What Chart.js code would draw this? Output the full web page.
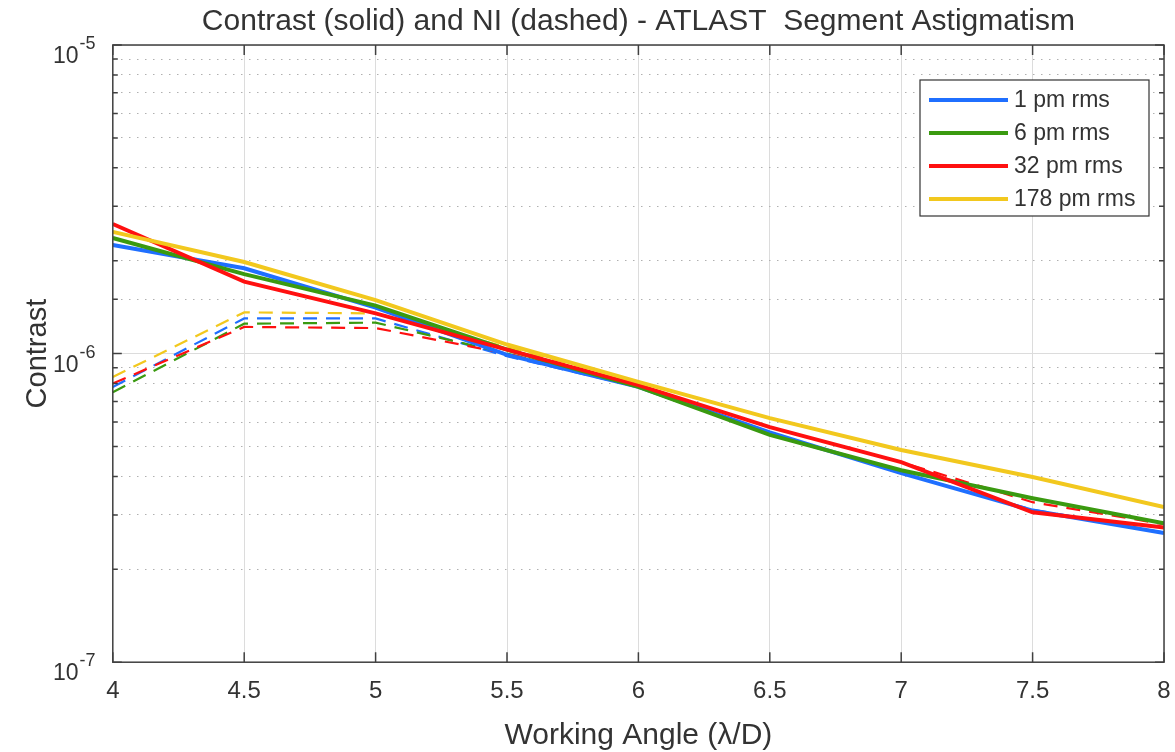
<!DOCTYPE html>
<html>
<head>
<meta charset="utf-8">
<script src="https://cdn.jsdelivr.net/npm/chart.js@4.4.1/dist/chart.umd.min.js"></script>
<style>
  body { margin: 0; background: #fff; }
  #wrap { width: 1175px; height: 752px; }
</style>
</head>
<body>
<div id="wrap"><canvas id="astigChart" width="1175" height="752"></canvas></div>
<script>
// Working angle samples (lambda/D)
const angles = [4, 4.5, 5, 5.5, 6, 6.5, 7, 7.5, 8];
const seriesNames = ["1 pm rms", "6 pm rms", "32 pm rms", "178 pm rms"];
const seriesColors = ["#1f6fff", "#3a9a10", "#ff1010", "#f2c81e"];

// Contrast (solid lines)
const contrast1pm = [2.25e-6, 1.89e-6, 1.41e-6, 0.99e-6, 7.8e-7, 5.55e-7, 4.1e-7, 3.1e-7, 2.62e-7];
const contrast6pm = [2.37e-6, 1.81e-6, 1.43e-6, 1.03e-6, 7.8e-7, 5.45e-7, 4.19e-7, 3.4e-7, 2.82e-7];
const contrast32pm = [2.63e-6, 1.71e-6, 1.35e-6, 1.03e-6, 7.9e-7, 5.78e-7, 4.45e-7, 3.06e-7, 2.73e-7];
const contrast178pm = [2.48e-6, 1.98e-6, 1.49e-6, 1.07e-6, 8.1e-7, 6.18e-7, 4.87e-7, 3.98e-7, 3.18e-7];

// NI (dashed lines)
const ni1pm = [7.8e-7, 1.3e-6, 1.3e-6, 0.98e-6, 7.8e-7, 5.55e-7, 4.1e-7, 3.12e-7, 2.63e-7];
const ni6pm = [7.5e-7, 1.25e-6, 1.26e-6, 1.0e-6, 7.8e-7, 5.45e-7, 4.19e-7, 3.4e-7, 2.82e-7];
const ni32pm = [8.0e-7, 1.22e-6, 1.21e-6, 1.0e-6, 7.9e-7, 5.78e-7, 4.45e-7, 3.3e-7, 2.8e-7];
const ni178pm = [8.4e-7, 1.36e-6, 1.35e-6, 1.05e-6, 8.1e-7, 6.18e-7, 4.87e-7, 3.98e-7, 3.18e-7];

// y tick labels (decades only)
const yDecades = [1e-7, 1e-6, 1e-5];
const yDecadeExp = ["-7", "-6", "-5"];

const FONT = "'Liberation Sans', Arial, Helvetica, sans-serif";
const TEXT = "#333333";

const solidSets = [contrast1pm, contrast6pm, contrast32pm, contrast178pm];
const dashedSets = [ni1pm, ni6pm, ni32pm, ni178pm];

function isDecade(v) {
  const l = Math.log10(v);
  return Math.abs(l - Math.round(l)) < 1e-6;
}

const datasets = [];
solidSets.forEach((vals, i) => {
  datasets.push({
    label: seriesNames[i],
    data: angles.map((a, k) => ({ x: a, y: vals[k] })),
    borderColor: seriesColors[i],
    borderWidth: 4,
    pointRadius: 0,
    tension: 0,
    order: 4 - i,
  });
});
dashedSets.forEach((vals, i) => {
  datasets.push({
    label: seriesNames[i] + " NI",
    data: angles.map((a, k) => ({ x: a, y: vals[k] })),
    borderColor: seriesColors[i],
    borderWidth: 2.2,
    borderDash: [14, 9],
    pointRadius: 0,
    tension: 0,
    order: 8 - i,
  });
});

// axes box, inward ticks, decade labels and legend
const matlabAxes = {
  id: "matlabAxes",
  afterDraw(chart) {
    const { ctx, chartArea: a } = chart;
    const xs = chart.scales.x;
    const ys = chart.scales.y;
    ctx.save();
    ctx.strokeStyle = "#404040";
    ctx.lineWidth = 1.5;
    ctx.strokeRect(a.left, a.top, a.right - a.left, a.bottom - a.top);

    ctx.beginPath();
    xs.ticks.forEach((t) => {
      const px = xs.getPixelForValue(t.value);
      ctx.moveTo(px, a.bottom);
      ctx.lineTo(px, a.bottom - 10);
      ctx.moveTo(px, a.top);
      ctx.lineTo(px, a.top + 10);
    });
    ys.ticks.forEach((t) => {
      const py = ys.getPixelForValue(t.value);
      const len = isDecade(t.value) ? 9 : 5;
      ctx.moveTo(a.left, py);
      ctx.lineTo(a.left + len, py);
      ctx.moveTo(a.right, py);
      ctx.lineTo(a.right - len, py);
    });
    ctx.stroke();

    // 10^n labels
    ctx.fillStyle = TEXT;
    ctx.textAlign = "left";
    ctx.textBaseline = "alphabetic";
    yDecades.forEach((v, i) => {
      const py = ys.getPixelForValue(v);
      ctx.font = "23px " + FONT;
      const x0 = 53;
      ctx.fillText("10", x0, py + 18);
      const w = ctx.measureText("10").width;
      ctx.font = "18px " + FONT;
      ctx.fillText(yDecadeExp[i], x0 + w + 1, py + 4);
    });

    // legend
    const lw = 229, lh = 136;
    const lx = a.right - 15 - lw;
    const ly = a.top + 35;
    ctx.fillStyle = "#ffffff";
    ctx.fillRect(lx, ly, lw, lh);
    ctx.strokeStyle = "#333333";
    ctx.lineWidth = 1.2;
    ctx.strokeRect(lx, ly, lw, lh);
    ctx.font = "23px " + FONT;
    ctx.textBaseline = "middle";
    seriesNames.forEach((name, i) => {
      const cy = ly + 20 + i * 33;
      ctx.strokeStyle = seriesColors[i];
      ctx.lineWidth = 4;
      ctx.beginPath();
      ctx.moveTo(lx + 9, cy);
      ctx.lineTo(lx + 88, cy);
      ctx.stroke();
      ctx.fillStyle = TEXT;
      ctx.fillText(name, lx + 94, cy + 1);
    });
    ctx.restore();
  },
};

new Chart(document.getElementById("astigChart"), {
  type: "line",
  data: { datasets: datasets },
  options: {
    responsive: false,
    animation: false,
    layout: { padding: { left: 21, right: 11, top: 2, bottom: -2 } },
    plugins: {
      legend: { display: false },
      tooltip: { enabled: false },
      title: {
        display: true,
        text: "Contrast (solid) and NI (dashed) - ATLAST  Segment Astigmatism",
        color: TEXT,
        font: { family: FONT, size: 30, weight: "normal" },
        padding: { top: 2, bottom: 5 },
        fullSize: false,
      },
    },
    scales: {
      x: {
        type: "linear",
        min: 4,
        max: 8,
        afterFit: (scale) => {
          scale.paddingRight = 0;
        },
        ticks: {
          stepSize: 0.5,
          color: TEXT,
          font: { family: FONT, size: 24 },
          padding: 15,
          maxRotation: 0,
          callback: (v) => String(v),
        },
        grid: { color: "#dcdcdc", lineWidth: 1, drawTicks: false },
        border: { display: false },
        title: {
          display: true,
          text: "Working Angle (\u03bb/D)",
          color: TEXT,
          font: { family: FONT, size: 30 },
          padding: { top: -3, bottom: 0 },
        },
      },
      y: {
        type: "logarithmic",
        min: 1e-7,
        max: 1e-5,
        ticks: { display: false },
        grid: {
          drawTicks: false,
          lineWidth: 1,
          color: (c) => (c.tick && !isDecade(c.tick.value) ? "#b0b0b0" : "#dcdcdc"),
        },
        border: {
          display: false,
          dash: (c) => (c.tick && !isDecade(c.tick.value) ? [1.5, 6.5] : []),
        },
        title: {
          display: true,
          text: "Contrast",
          color: TEXT,
          font: { family: FONT, size: 29 },
          padding: { top: 0, bottom: 57 },
        },
      },
    },
  },
  plugins: [matlabAxes],
});
</script>
</body>
</html>
